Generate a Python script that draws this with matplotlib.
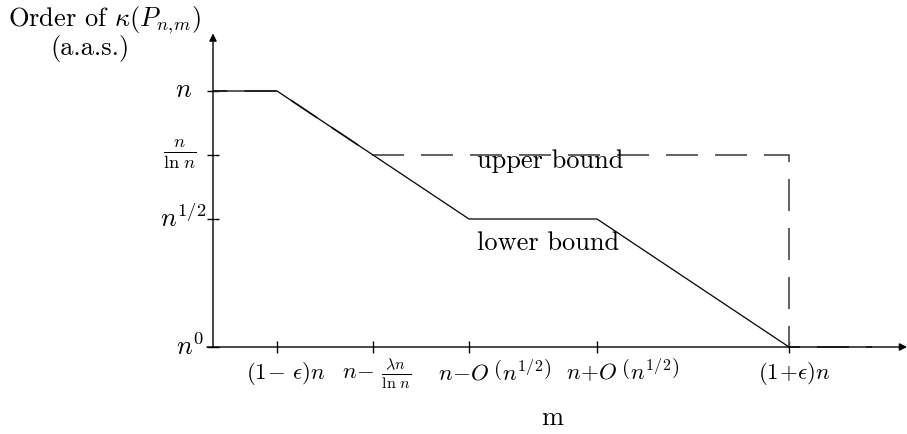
import matplotlib
matplotlib.use("Agg")
import matplotlib.pyplot as plt
from matplotlib.mathtext import MathTextParser

plt.rcParams['mathtext.fontset'] = 'cm'
plt.rcParams['font.family'] = ['cmr10']
plt.rcParams['axes.formatter.use_mathtext'] = True

_parser = MathTextParser('path')


def first_parsable(candidates):
    """Return the first mathtext string that the parser accepts."""
    for s in candidates:
        try:
            _parser.parse(s)
            return s
        except Exception:
            continue
    return candidates[-1]


def big_o(sign):
    # an empty, rule-less fraction makes \left( \right) pick the taller delimiter
    return first_parsable([
        r"$n\!%s\!O\;\left(\genfrac{}{}{0}{}{\ }{\ }\!\!n^{1/2}\right)$" % sign,
        r"$n\!%s\!O\,\left(n^{1/2}\right)$" % sign,
    ])


tick_positions = [2, 5, 8, 12, 18]
tick_labels = [
    r"$(1\!-\,\epsilon)n$",
    r"$n\!-\,\frac{\lambda n}{\ln\, n}$",
    big_o('-'),
    big_o('+'),
    r"$(1\!+\!\epsilon)n$",
]
level_values = [4, 3, 2, 0]
level_labels = [r"$n$", r"$\frac{n}{\ln\, n}$", r"$n^{1/2}$", r"$n^{0}$"]
lower_x = [0, 2, 5, 8, 12, 18]
lower_y = [4, 4, 3, 2, 2, 0]
upper_x = [0, 2, 5, 18, 18, 20.6]
upper_y = [4, 4, 3, 3, 0, 0]

W, H = 907, 434
DPI = 100
fig = plt.figure(figsize=(W / DPI, H / DPI), dpi=DPI)
ax = fig.add_axes([0, 0, 1, 1])
ax.set_axis_off()
# one x unit = 32 px, one y unit = 64 px, origin at pixel (213, 347)
x0, y0, ux, uy = 213, 347, 32.0, 64.0
ax.set_xlim(-x0 / ux, (W - x0) / ux)
ax.set_ylim(-(H - y0) / uy, y0 / uy)

fs = 19
fs_tick = 16.5
k = 'black'

# axes with arrow heads
ax.annotate('', xy=(0, 4.9), xytext=(0, 0),
            arrowprops=dict(arrowstyle='-|>', color=k, lw=1.0,
                            mutation_scale=11, shrinkA=0, shrinkB=0))
ax.annotate('', xy=(21.69, 0), xytext=(-0.19, 0),
            arrowprops=dict(arrowstyle='-|>', color=k, lw=1.0,
                            mutation_scale=11, shrinkA=0, shrinkB=0))

# ticks crossing the axes
tx = 6 / ux
ty = 6 / uy
for v in level_values:
    ax.plot([-tx, tx], [v, v], color=k, lw=1.0, solid_capstyle='butt')
for p in tick_positions:
    ax.plot([p, p], [-ty, ty], color=k, lw=1.0, solid_capstyle='butt')

# upper bound (dashed) and lower bound (solid)
lw_up = 1.3
on, off = 32 * 72 / DPI / lw_up, 17 * 72 / DPI / lw_up
ax.plot(upper_x, upper_y, color='#555555', lw=lw_up,
        linestyle=(on * 0.55, (on, off)))
ax.plot(lower_x, lower_y, color=k, lw=0.9)

# abscissa labels, starting just left of each tick
for p, lab in zip(tick_positions, tick_labels):
    ax.text(p - 31 / ux, -0.5, lab, fontsize=fs_tick, ha='left', va='baseline')

# ordinate labels
level_label_pos = [(192, 90), (197, 154), (206, 218), (204, 347)]
for (px, py), lab in zip(level_label_pos, level_labels):
    ax.text((px - x0) / ux, (y0 - py) / uy, lab, fontsize=fs,
            ha='right', va='center')

ax.text((104 - x0) / ux, (y0 - 20) / uy, r"Order of $\kappa(P_{n,\!m})$",
        fontsize=fs, ha='center', va='center')
ax.text((90 - x0) / ux, (y0 - 48) / uy, "(a.a.s.)",
        fontsize=fs, ha='center', va='center')
ax.text((552 - x0) / ux, (y0 - 425) / uy, "m",
        fontsize=fs, ha='center', va='baseline')
ax.text((477 - x0) / ux, (y0 - 168) / uy, "upper bound",
        fontsize=fs, ha='left', va='baseline')
ax.text((477 - x0) / ux, (y0 - 250) / uy, "lower bound",
        fontsize=fs, ha='left', va='baseline')

fig.savefig('out.png', dpi=DPI, facecolor='white')
